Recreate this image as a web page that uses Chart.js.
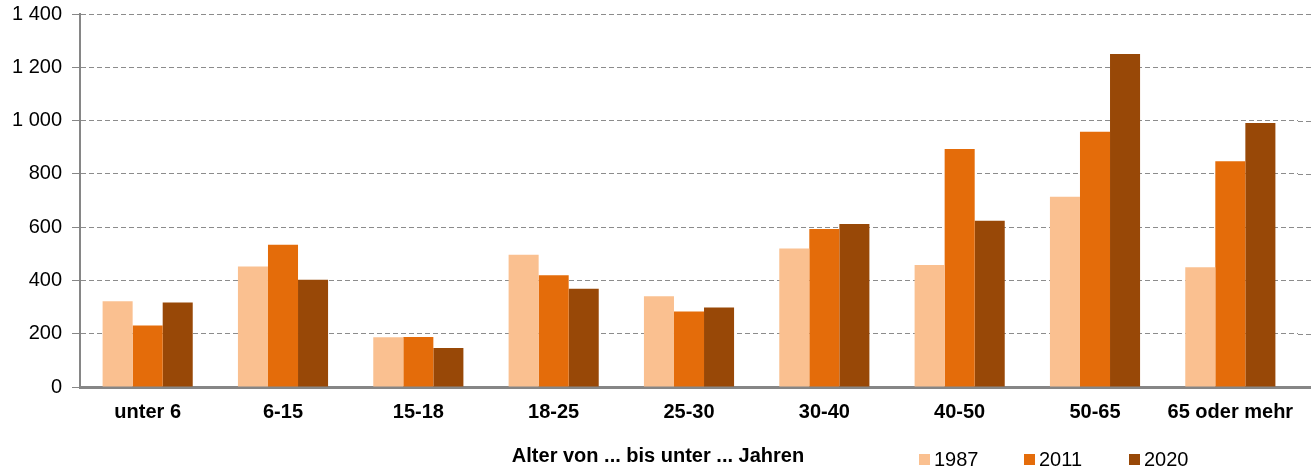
<!DOCTYPE html>
<html>
<head>
<meta charset="utf-8">
<script src="https://cdn.jsdelivr.net/npm/chart.js@4/dist/chart.umd.min.js"></script>
<style>
html,body{margin:0;padding:0;background:#fff;}
canvas{display:block;}
</style>
</head>
<body>
<canvas id="c" width="1314" height="472"></canvas>
<script>
const categories = ["unter 6", "6-15", "15-18", "18-25", "25-30", "30-40", "40-50", "50-65", "65 oder mehr"];
const years = ["1987", "2011", "2020"];
const values1987 = [322, 452, 187, 496, 341, 520, 458, 714, 449];
const values2011 = [231, 534, 188, 419, 283, 593, 893, 958, 847];
const values2020 = [317, 403, 146, 369, 298, 612, 624, 1250, 991];
const yTicks = [0, 200, 400, 600, 800, 1000, 1200, 1400];
const xTitle = "Alter von ... bis unter ... Jahren";
const colors = ["#FAC090", "#E46C0A", "#984807"];

const FONT = "'Liberation Sans', Arial, sans-serif";

function fmt(v) {
  return String(v).replace(/\B(?=(\d{3})+(?!\d))/g, "\u00a0");
}

const overlay = {
  id: "overlay",
  beforeDatasetsDraw(chart) {
    // extend dashed gridlines and the baseline a little beyond the plot area on the right
    const ctx = chart.ctx, y = chart.scales.y, area = chart.chartArea;
    ctx.save();
    ctx.strokeStyle = "#8c8c8c";
    ctx.lineWidth = 1;
    ctx.setLineDash([5, 3]);
    yTicks.forEach(t => {
      if (t === 0) return;
      const py = Math.round(y.getPixelForValue(t)) + 0.5;
      ctx.beginPath();
      ctx.moveTo(area.right, py);
      ctx.lineTo(1311, py);
      ctx.stroke();
    });
    ctx.setLineDash([]);
    ctx.strokeStyle = "#868686";
    ctx.lineWidth = 3;
    const by = Math.round(area.bottom) + 0.5;
    ctx.beginPath();
    ctx.moveTo(area.right - 2, by);
    ctx.lineTo(1311, by);
    ctx.stroke();
    ctx.restore();
  },
  afterDraw(chart) {
    const ctx = chart.ctx;
    ctx.save();
    ctx.fillStyle = "#000";
    ctx.font = "bold 20px " + FONT;
    ctx.textAlign = "center";
    ctx.textBaseline = "middle";
    ctx.fillText(xTitle, 658, 456);
    // legend
    ctx.font = "20px " + FONT;
    ctx.textAlign = "left";
    chart.data.datasets.forEach((ds, i) => {
      const bx = 919 + i * 105;
      ctx.fillStyle = ds.backgroundColor;
      ctx.fillRect(bx, 454, 11, 11);
      ctx.fillStyle = "#000";
      ctx.fillText(ds.label, bx + 15, 460);
    });
    ctx.restore();
  }
};

new Chart(document.getElementById("c"), {
  type: "bar",
  data: {
    labels: categories,
    datasets: [
      { label: years[0], data: values1987, backgroundColor: colors[0] },
      { label: years[1], data: values2011, backgroundColor: colors[1] },
      { label: years[2], data: values2020, backgroundColor: colors[2] }
    ]
  },
  options: {
    responsive: false,
    animation: false,
    devicePixelRatio: 1,
    layout: { padding: { left: 0, right: 16, top: 14, bottom: 0 } },
    datasets: { bar: { categoryPercentage: 0.666, barPercentage: 1.0, borderWidth: 0 } },
    plugins: {
      legend: { display: false },
      tooltip: { enabled: false },
      title: { display: false }
    },
    scales: {
      x: {
        grid: { display: false, drawTicks: false },
        border: { display: true, color: "#868686", width: 3 },
        ticks: {
          color: "#000",
          font: { family: FONT, size: 20, weight: "bold" },
          padding: 13,
          maxRotation: 0,
          autoSkip: false
        },
        afterFit(scale) { scale.height = 85; scale.paddingLeft = 0; scale.paddingRight = 0; }
      },
      y: {
        min: 0,
        max: 1400,
        afterBuildTicks(scale) { scale.ticks = yTicks.map(v => ({ value: v })); },
        grid: {
          color: "#8c8c8c",
          lineWidth: 1,
          drawTicks: true,
          tickLength: 8,
          tickColor: "#868686",
          tickWidth: 1
        },
        border: { display: true, color: "#868686", width: 2, dash: [5, 3] },
        ticks: {
          color: "#000",
          font: { family: FONT, size: 20 },
          padding: 10,
          callback: v => fmt(v)
        },
        afterFit(scale) { scale.width = 80; scale.paddingTop = 0; scale.paddingBottom = 0; }
      }
    }
  },
  plugins: [overlay]
});
</script>
</body>
</html>
